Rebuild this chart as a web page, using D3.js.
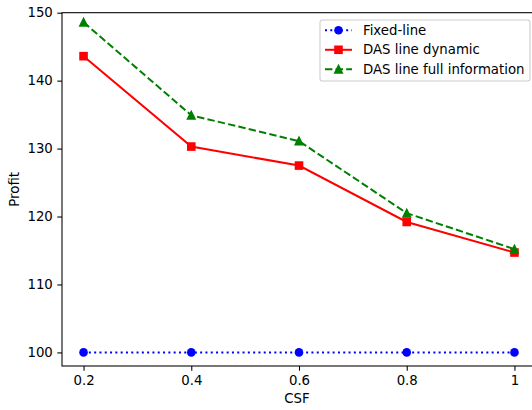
<!DOCTYPE html>
<html><head><meta charset="utf-8">
<script src="https://cdn.jsdelivr.net/npm/d3@7"></script>
<style>
html,body{margin:0;padding:0;background:#fff;}
svg{display:block;font-family:"DejaVu Sans",sans-serif;}
</style></head>
<body>
<script>
const csf = [0.2, 0.4, 0.6, 0.8, 1.0];
const fixedLine = [100, 100, 100, 100, 100];
const dasDynamic = [143.6, 130.3, 127.5, 119.2, 114.7];
const dasFull = [148.6, 134.9, 131.1, 120.5, 115.2];
const xTicks = [0.2, 0.4, 0.6, 0.8, 1.0];
const xTickLabels = ["0.2", "0.4", "0.6", "0.8", "1"];
const yTicks = [100, 110, 120, 130, 140, 150];
const seriesNames = ["Fixed-line", "DAS line dynamic", "DAS line full information"];

const W = 532, H = 410;
const mLeft = 62, mRight = 536, mTop = 12.7, mBottom = 366;
const svg = d3.select("body").append("svg").attr("width", W).attr("height", H);

const x = d3.scaleLinear().domain([0.16, 1.04]).range([mLeft, mRight]);
const y = d3.scaleLinear().domain([98, 150]).range([mBottom, mTop]);

const series = [
  {name: seriesNames[0], values: fixedLine, color: "#0000ff", dash: "2,3.3", marker: "circle"},
  {name: seriesNames[1], values: dasDynamic, color: "#ff0000", dash: null, marker: "square"},
  {name: seriesNames[2], values: dasFull, color: "#008000", dash: "7.4,3.2", marker: "triangle"}
];

svg.append("clipPath").attr("id","clip").append("rect")
  .attr("x", mLeft).attr("y", mTop).attr("width", mRight-mLeft).attr("height", mBottom-mTop);

function drawMarker(g, type, cx, cy, color) {
  if (type === "circle") {
    g.append("circle").attr("cx", cx).attr("cy", cy).attr("r", 4.3).attr("fill", color);
  } else if (type === "square") {
    g.append("rect").attr("x", cx-4.3).attr("y", cy-4.3).attr("width", 8.6).attr("height", 8.6).attr("fill", color);
  } else {
    const s = 5;
    g.append("path").attr("d", `M${cx},${cy-s*1.1}L${cx+s},${cy+s*0.9}L${cx-s},${cy+s*0.9}Z`).attr("fill", color);
  }
}

const plot = svg.append("g").attr("clip-path", "url(#clip)");
const line = d3.line().x((d,i)=>x(csf[i])).y(d=>y(d));
series.forEach(s => {
  plot.append("path").datum(s.values).attr("d", line)
    .attr("fill","none").attr("stroke", s.color).attr("stroke-width", 2)
    .attr("stroke-dasharray", s.dash);
  s.values.forEach((v,i)=> drawMarker(plot, s.marker, x(csf[i]), y(v), s.color));
});

// axes
const xAxis = d3.axisBottom(x).tickValues(xTicks).tickFormat((d,i)=>xTickLabels[i]).tickSizeOuter(0).tickSize(4.7).tickPadding(4.5);
const gx = svg.append("g").attr("transform", `translate(0,${mBottom})`).call(xAxis);
const yAxis = d3.axisLeft(y).tickValues(yTicks).tickSizeOuter(0).tickSize(4.7).tickPadding(4.5);
const gy = svg.append("g").attr("transform", `translate(${mLeft},0)`).call(yAxis);
[gx, gy].forEach(g => {
  g.select(".domain").remove();
  g.selectAll("line").attr("stroke", "#000").attr("stroke-width", 1.07);
  g.selectAll("text").attr("fill", "#000").style("font-size", "13.3px").style("font-family", "DejaVu Sans");
});

// frame
svg.append("rect").attr("x", mLeft).attr("y", mTop).attr("width", mRight-mLeft).attr("height", mBottom-mTop)
  .attr("fill","none").attr("stroke","#000").attr("stroke-width",1.07);

// labels
svg.append("text").attr("x", (mLeft+mRight)/2 - 2).attr("y", 403).attr("text-anchor","middle")
  .style("font-size","13.3px").text("CSF");
svg.append("text").attr("transform", `translate(19,${(mTop+mBottom)/2}) rotate(-90)`).attr("text-anchor","middle")
  .style("font-size","13.3px").text("Profit");

// legend
const lg = svg.append("g");
lg.append("rect").attr("x", 320).attr("y", 20).attr("width", 210).attr("height", 61).attr("rx", 2.5)
  .attr("fill", "#fff").attr("fill-opacity", 0.8).attr("stroke", "#cccccc").attr("stroke-width", 1.07);
series.forEach((s, i) => {
  const yy = 30.3 + i * 19.5;
  lg.append("line").attr("x1", 325).attr("x2", 352).attr("y1", yy).attr("y2", yy)
    .attr("stroke", s.color).attr("stroke-width", 2).attr("stroke-dasharray", s.dash);
  drawMarker(lg, s.marker, 338.5, yy, s.color);
  lg.append("text").attr("x", 363).attr("y", yy).attr("dy", "0.35em")
    .style("font-size", "13.3px").text(s.name);
});
</script>
</body></html>
